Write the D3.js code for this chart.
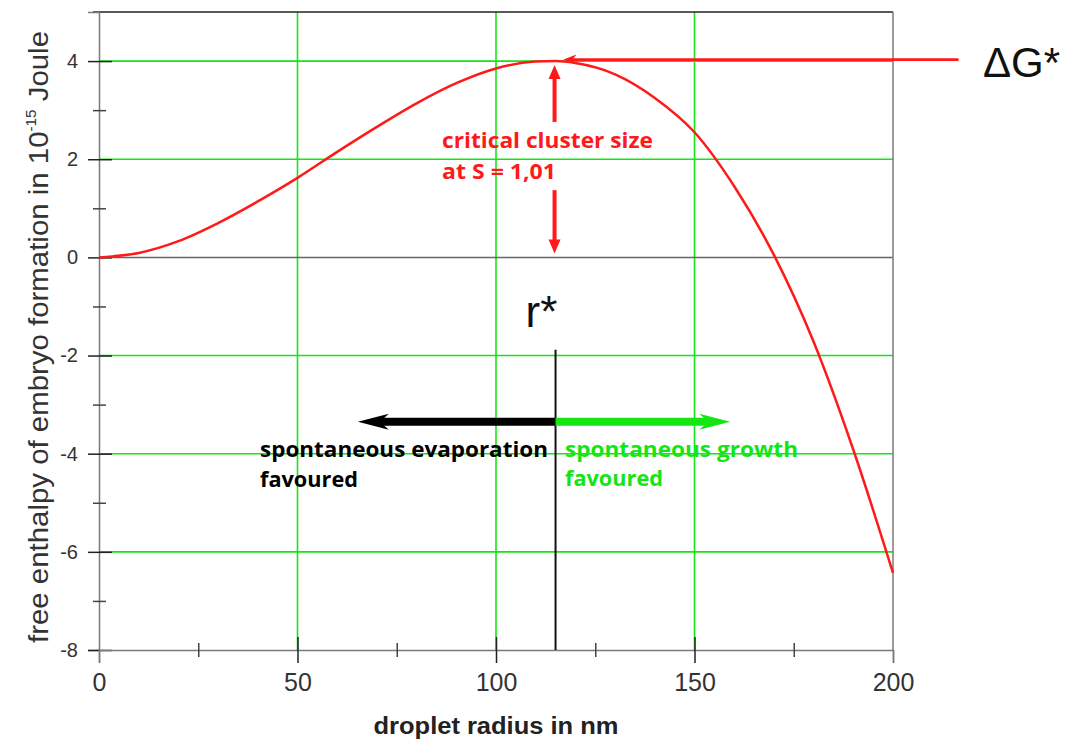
<!DOCTYPE html>
<html>
<head>
<meta charset="utf-8">
<script src="https://cdn.jsdelivr.net/npm/d3@7"></script>
<style>
  html, body { margin: 0; padding: 0; background: #fff; }
  svg { display: block; }
</style>
</head>
<body>
<svg id="chart" width="1077" height="740"></svg>
<script>
// ---------- data ----------
const radius = [0, 10, 20, 30, 40, 50, 60, 70, 80, 90, 100, 110, 115, 120, 130, 140, 150, 160, 170, 180, 190, 200];
const enthalpy = [0, 0.09, 0.33, 0.70, 1.14, 1.62, 2.15, 2.66, 3.14, 3.55, 3.85, 3.99, 4.0, 3.96, 3.73, 3.25, 2.55, 1.45, 0.05, -1.72, -3.92, -6.43];
const xTickValues = [0, 50, 100, 150, 200];
const xTickLabels = ["0", "50", "100", "150", "200"];
const xMinorTicks = [25, 75, 125, 175];
const yTickValues = [4, 2, 0, -2, -4, -6, -8];
const yTickLabels = ["4", "2", "0", "-2", "-4", "-6", "-8"];
const yMinorTicks = [3, 1, -1, -3, -5, -7];
const xGrid = [50, 100, 150];
const yGrid = [4, 2, -2, -4, -6];
const rStar = 115;
const dGStar = 4;

// ---------- setup ----------
const svg = d3.select("#chart");
const x = d3.scaleLinear().domain([0, 200]).range([99, 893]);
const y = d3.scaleLinear().domain([-8, 5]).range([650, 12]);

const GREEN = "#14e614";
const RED = "#ff1a1a";
const GRAY = "#7a7a7a";
const SANS = "Liberation Sans, Arial, sans-serif";
const BOLD = "'Open Sans', Lato, sans-serif";

// ---------- grid ----------
svg.append("g").selectAll("line").data(yGrid).join("line")
  .attr("x1", x(0)).attr("x2", x(200))
  .attr("y1", d => y(d)).attr("y2", d => y(d))
  .attr("stroke", GREEN).attr("stroke-width", 1.6);
svg.append("g").selectAll("line").data(xGrid).join("line")
  .attr("x1", d => x(d)).attr("x2", d => x(d))
  .attr("y1", y(5)).attr("y2", y(-8))
  .attr("stroke", GREEN).attr("stroke-width", 1.6);
// zero line
svg.append("line")
  .attr("x1", x(0)).attr("x2", x(200)).attr("y1", y(0)).attr("y2", y(0))
  .attr("stroke", "#666").attr("stroke-width", 1.5);

// frame: top & right
svg.append("line").attr("x1", x(0) - 6).attr("x2", x(200)).attr("y1", y(5)).attr("y2", y(5))
  .attr("stroke", "#222").attr("stroke-width", 1.5);
svg.append("line").attr("x1", x(200)).attr("x2", x(200)).attr("y1", y(5)).attr("y2", y(-8))
  .attr("stroke", GRAY).attr("stroke-width", 1.5);

// ---------- axes ----------
const yAxis = d3.axisLeft(y).tickValues(yTickValues)
  .tickFormat((d, i) => yTickLabels[i]).tickSizeOuter(0).tickSize(11);
const gy = svg.append("g").attr("transform", `translate(${x(0)},0)`).call(yAxis);
gy.select(".domain").attr("stroke", GRAY).attr("stroke-width", 1.5);
gy.selectAll(".tick line").attr("x1", 13).attr("x2", -11).attr("stroke", "#222").attr("stroke-width", 1.5);
gy.selectAll(".tick text").attr("x", -21).attr("font-family", SANS)
  .attr("font-size", 20).attr("fill", "#333");

const yMinor = d3.axisLeft(y).tickValues(yMinorTicks).tickFormat("").tickSizeOuter(0).tickSize(6);
const gym = svg.append("g").attr("transform", `translate(${x(0)},0)`).call(yMinor);
gym.select(".domain").remove();
gym.selectAll(".tick line").attr("x1", 7).attr("x2", -6).attr("stroke", "#444").attr("stroke-width", 1.5);

const xAxis = d3.axisBottom(x).tickValues(xTickValues)
  .tickFormat((d, i) => xTickLabels[i]).tickSizeOuter(0).tickSize(13);
const gx = svg.append("g").attr("transform", `translate(0,${y(-8)})`).call(xAxis);
gx.select(".domain").attr("stroke", GRAY).attr("stroke-width", 1.5);
gx.selectAll(".tick line").attr("y1", -13).attr("y2", 13).attr("stroke", "#222").attr("stroke-width", 1.5);
gx.selectAll(".tick line").filter(d => d === 0 || d === 200).attr("y1", 0).attr("stroke", GRAY);
gx.selectAll(".tick text").attr("y", 41).attr("dy", 0).attr("font-family", SANS)
  .attr("font-size", 25).attr("fill", "#333");

const xMinor = d3.axisBottom(x).tickValues(xMinorTicks).tickFormat("").tickSizeOuter(0).tickSize(7);
const gxm = svg.append("g").attr("transform", `translate(0,${y(-8)})`).call(xMinor);
gxm.select(".domain").remove();
gxm.selectAll(".tick line").attr("y1", -7).attr("y2", 7).attr("stroke", "#444").attr("stroke-width", 1.5);

// axis titles
svg.append("text").attr("x", x(100)).attr("y", 734).attr("text-anchor", "middle")
  .attr("font-family", SANS).attr("font-weight", "bold")
  .attr("font-size", 24).attr("fill", "#222")
  .attr("textLength", 245).attr("lengthAdjust", "spacingAndGlyphs")
  .text("droplet radius in nm");

const yt = svg.append("text")
  .attr("transform", `translate(48,${(y(5) + y(-8)) / 2 + 6}) rotate(-90)`)
  .attr("text-anchor", "middle")
  .attr("font-family", SANS)
  .attr("font-size", 27).attr("fill", "#333")
  .attr("textLength", 612).attr("lengthAdjust", "spacingAndGlyphs");
yt.append("tspan").text("free enthalpy of embryo formation in 10");
yt.append("tspan").attr("font-size", 14).attr("dy", -12).text("-15");
yt.append("tspan").attr("dy", 12).text(" Joule");

// ---------- r* line ----------
svg.append("line").attr("x1", x(rStar)).attr("x2", x(rStar))
  .attr("y1", y(-1.88)).attr("y2", y(-8))
  .attr("stroke", "#111").attr("stroke-width", 2);
svg.append("text").attr("x", x(rStar) - 30).attr("y", 327)
  .attr("font-family", SANS).attr("font-size", 44)
  .attr("fill", "#111").text("r*");

// ---------- curve ----------
const pts = radius.map((r, i) => [r, enthalpy[i]]);
svg.append("path").datum(pts)
  .attr("d", d3.line().x(d => x(d[0])).y(d => y(d[1])).curve(d3.curveMonotoneX))
  .attr("fill", "none").attr("stroke", RED).attr("stroke-width", 2.5);

// ---------- arrows ----------
function hArrow(x0, x1, yy, w, headLen, headHalf, notch, color) {
  const dir = Math.sign(x1 - x0);
  const bx = x1 - dir * headLen;
  svg.append("line").attr("x1", x0).attr("x2", x1 - dir * (notch - 1)).attr("y1", yy).attr("y2", yy)
    .attr("stroke", color).attr("stroke-width", w);
  svg.append("path")
    .attr("d", `M${x1},${yy} L${bx},${yy - headHalf} L${x1 - dir * notch},${yy} L${bx},${yy + headHalf} Z`)
    .attr("fill", color);
}
function vArrow(y0, y1, xx, w, headLen, headHalf, color) {
  const dir = Math.sign(y1 - y0);
  const by = y1 - dir * headLen;
  svg.append("line").attr("x1", xx).attr("x2", xx).attr("y1", y0).attr("y2", by + dir * 2)
    .attr("stroke", color).attr("stroke-width", w);
  svg.append("path")
    .attr("d", `M${xx},${y1} L${xx - headHalf},${by} L${xx + headHalf},${by} Z`)
    .attr("fill", color);
}

// Delta G* pointer
hArrow(x(216.5), x(117), y(dGStar) - 1.5, 2.6, 13, 5, 9, RED);
// red double arrow
vArrow(y(2.76), y(3.92), x(rStar) - 1, 4, 14, 6, RED);
vArrow(y(1.37), y(0.08), x(rStar) - 1, 4, 14, 6, RED);
// evaporation / growth arrows
hArrow(x(rStar), x(65.2), y(-3.35), 8, 31, 8, 22, "#000");
hArrow(x(rStar), x(159), y(-3.35), 8, 31, 8, 22, GREEN);

// ---------- texts ----------
function label(tx, ty, str, len, color) {
  svg.append("text").attr("x", tx).attr("y", ty)
    .attr("font-family", BOLD).attr("font-weight", "bold")
    .attr("font-size", 21).attr("fill", color)
    .attr("textLength", len).attr("lengthAdjust", "spacingAndGlyphs")
    .text(str);
}
label(442, 148, "critical cluster size", 211, RED);
label(442, 179, "at S = 1,01", 114, RED);
label(260, 457, "spontaneous evaporation", 288, "#000");
label(260, 487, "favoured", 98, "#000");
label(565, 457, "spontaneous growth", 233, GREEN);
label(565, 486, "favoured", 98, GREEN);

svg.append("text").attr("x", 983).attr("y", 77)
  .attr("font-family", SANS).attr("font-size", 42)
  .attr("fill", "#111").text("ΔG*");
</script>
</body>
</html>
